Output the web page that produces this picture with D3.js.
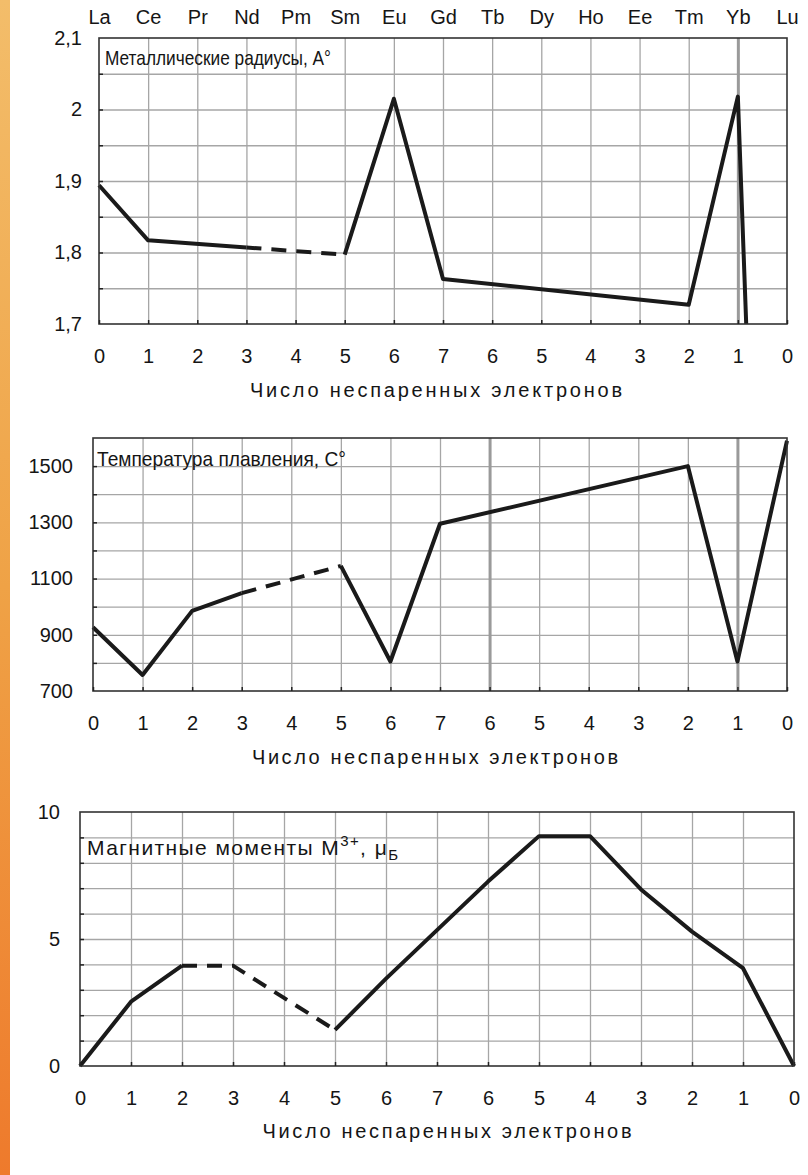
<!DOCTYPE html>
<html lang="ru">
<head>
<meta charset="UTF-8">
<title>Лантаноиды: радиусы, температуры плавления, магнитные моменты</title>
<script src="https://d3js.org/d3.v7.min.js"></script>
<style>
  body { margin: 0; background: #fff; }
  svg text { font-family: "Liberation Sans", Arial, sans-serif; fill: #151515; }
  .grid line { stroke: #a6a6a6; stroke-width: 1.3; }
  .grid line.thick { stroke: #9a9a9a; stroke-width: 3; }
  .grid path { display: none; }
  .axis path { display: none; }
  .axis line { stroke: #222; stroke-width: 1.5; }
  .axis text { font-size: 20px; }
  .frame { fill: none; stroke: #333; stroke-width: 1.6; }
  .series { fill: none; stroke: #1a1a1a; stroke-width: 4; stroke-linejoin: round; }
  .title { font-size: 21px; }
  .xtitle { font-size: 20px; }
</style>
</head>
<body>
<svg id="chart" width="808" height="1175"></svg>
<script>
// Shared x categories: element symbols and number of unpaired electrons
const elements = ["La", "Ce", "Pr", "Nd", "Pm", "Sm", "Eu", "Gd", "Tb", "Dy", "Ho", "Ee", "Tm", "Yb", "Lu"];
const unpaired = [0, 1, 2, 3, 4, 5, 6, 7, 6, 5, 4, 3, 2, 1, 0];
const xTitle = "Число неспаренных электронов";

// Metallic radii (corner points of the drawn line)
const radiusX = [0, 1, 3, 5, 6, 7, 12, 13, 13.17];
const radiusY = [1.894, 1.817, 1.807, 1.797, 2.015, 1.763, 1.727, 2.018, 1.70];
const radiusGrid = [1.75, 1.8, 1.85, 1.9, 1.95, 2, 2.05];
const radiusTicks = [1.7, 1.8, 1.9, 2, 2.1];

// Melting temperature
const meltX = [0, 1, 2, 3, 5, 6, 7, 12, 13, 14];
const meltY = [927, 757, 985, 1048, 1145, 805, 1295, 1500, 805, 1590];
const meltGrid = [800, 900, 1000, 1100, 1200, 1300, 1400, 1500];
const meltTicks = [700, 900, 1100, 1300, 1500];

// Magnetic moments of M3+ ions
const magX = [0, 1, 2, 3, 4, 5, 6, 7, 8, 9, 10, 11, 12, 13, 14];
const magY = [0, 2.53, 3.95, 3.95, 2.68, 1.42, 3.44, 5.35, 7.26, 9.05, 9.05, 6.95, 5.29, 3.85, 0];
const magGrid = [1, 2, 3, 4, 5, 6, 7, 8, 9];
const magTicks = [0, 5, 10];

const svg = d3.select("#chart");
const positions = elements.map((d, i) => i);

// orange strip of the slide background on the left
const grad = svg.append("defs").append("linearGradient")
    .attr("id", "strip").attr("x1", 0).attr("y1", 0).attr("x2", 0).attr("y2", 1);
grad.append("stop").attr("offset", "0%").attr("stop-color", "#f3bd6a");
grad.append("stop").attr("offset", "50%").attr("stop-color", "#efa246");
grad.append("stop").attr("offset", "100%").attr("stop-color", "#ee7a2c");
svg.append("rect").attr("x", 0).attr("y", 0).attr("width", 10).attr("height", 1175)
    .attr("fill", "url(#strip)");

const comma = d => String(d).replace(".", ",");

function drawChart(o) {
  const g = svg.append("g");
  const x = d3.scaleLinear().domain([0, 14]).range([o.left, o.right]);
  const y = d3.scaleLinear().domain(o.yDomain).range([o.bottom, o.top]);
  const w = o.right - o.left, h = o.bottom - o.top;

  // grid
  g.append("g").attr("class", "grid")
      .attr("transform", `translate(${o.left},0)`)
      .call(d3.axisLeft(y).tickValues(o.grid).tickSize(-w).tickFormat(""));
  g.append("g").attr("class", "grid")
      .attr("transform", `translate(0,${o.bottom})`)
      .call(d3.axisBottom(x).tickValues(positions.slice(1, 14)).tickSize(-h).tickFormat(""))
      .selectAll(".tick line").classed("thick", d => o.thick.includes(d));

  // title inside the plot
  const t = g.append("text").attr("class", "title")
      .attr("x", o.titlePos[0]).attr("y", o.titlePos[1]);
  o.title(t);
  t.attr("textLength", o.titleLen).attr("lengthAdjust", o.titleAdjust);

  // series, split into solid and dashed runs
  const pts = o.xs.map((v, i) => [v, o.ys[i]]);
  const runs = [];
  for (let i = 0; i < pts.length - 1; i++) {
    const dashed = pts[i][0] >= o.dash[0] && pts[i + 1][0] <= o.dash[1];
    const last = runs[runs.length - 1];
    if (last && last.dashed === dashed) last.pts.push(pts[i + 1]);
    else runs.push({dashed, pts: [pts[i], pts[i + 1]]});
  }
  const line = d3.line().x(d => x(d[0])).y(d => y(d[1]));
  g.selectAll(".series").data(runs).join("path")
      .attr("class", "series")
      .attr("d", d => line(d.pts))
      .attr("stroke-dasharray", d => d.dashed ? "15,10" : null);

  g.append("rect").attr("class", "frame")
      .attr("x", o.left).attr("y", o.top).attr("width", w).attr("height", h);

  // bottom axis: inward ticks and unpaired electron counts
  g.append("g").attr("class", "axis")
      .attr("transform", `translate(0,${o.bottom})`)
      .call(d3.axisBottom(x).tickValues(positions).tickSize(-4).tickPadding(25)
        .tickFormat(i => unpaired[i]));

  // left axis: inward ticks, then labels
  g.append("g").attr("class", "axis")
      .attr("transform", `translate(${o.left},0)`)
      .call(d3.axisLeft(y).tickValues(o.grid).tickSize(-4).tickFormat(""));
  g.append("g").attr("class", "axis")
      .attr("transform", `translate(${o.left},0)`)
      .call(d3.axisLeft(y).tickValues(o.ticks).tickSize(0).tickPadding(o.labelPad).tickFormat(comma));

  if (o.top_labels) {
    g.append("g").attr("class", "axis")
        .attr("transform", `translate(0,${o.top})`)
        .call(d3.axisTop(x).tickValues(positions).tickSize(0).tickPadding(14)
          .tickFormat(i => elements[i]));
  }

  g.append("text").attr("class", "xtitle")
      .attr("x", o.xTitlePos[0]).attr("y", o.xTitlePos[1])
      .attr("text-anchor", "middle")
      .attr("textLength", o.xTitleLen).attr("lengthAdjust", "spacing")
      .text(xTitle);
}

drawChart({
  left: 99, right: 787, top: 38, bottom: 324,
  yDomain: [1.7, 2.1], grid: radiusGrid, ticks: radiusTicks, labelPad: 17,
  xs: radiusX, ys: radiusY, dash: [3, 5], thick: [13], top_labels: true,
  titlePos: [105, 65], titleLen: 226, titleAdjust: "spacingAndGlyphs",
  xTitlePos: [436, 397], xTitleLen: 372,
  title: t => t.text("Металлические радиусы, A°")
});

drawChart({
  left: 93, right: 787, top: 438, bottom: 691,
  yDomain: [700, 1600], grid: meltGrid, ticks: meltTicks, labelPad: 20,
  xs: meltX, ys: meltY, dash: [3, 5], thick: [8, 13],
  titlePos: [97, 466], titleLen: 249, titleAdjust: "spacingAndGlyphs",
  xTitlePos: [435, 764], xTitleLen: 366,
  title: t => t.text("Температура плавления, C°")
});

drawChart({
  left: 80, right: 794, top: 812, bottom: 1066,
  yDomain: [0, 10], grid: magGrid, ticks: magTicks, labelPad: 20,
  xs: magX, ys: magY, dash: [2, 5], thick: [],
  titlePos: [87, 855], titleLen: 311, titleAdjust: "spacing",
  xTitlePos: [447, 1138], xTitleLen: 369,
  title: t => {
    t.append("tspan").text("Магнитные моменты M");
    t.append("tspan").attr("dy", -9).attr("font-size", 15).text("3+");
    t.append("tspan").attr("dy", 9).text(", μ");
    t.append("tspan").attr("dy", 5).attr("font-size", 15).text("Б");
  }
});
</script>
</body>
</html>
